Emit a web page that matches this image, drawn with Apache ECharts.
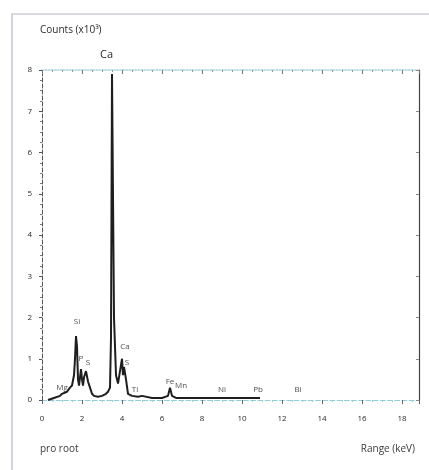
<!DOCTYPE html>
<html>
<head>
<meta charset="utf-8">
<style>
  html, body { margin: 0; padding: 0; background: #fff; }
  #chart { width: 429px; height: 470px; }
</style>
<script src="https://cdn.jsdelivr.net/npm/echarts@6/dist/echarts.min.js"></script>
</head>
<body>
<div id="chart"></div>
<script>
// --- Spectrum data ---
const energy = [0.3, 0.6, 0.9, 1.0, 1.1, 1.25, 1.4, 1.5, 1.6, 1.65, 1.7, 1.75, 1.8, 1.85, 1.9, 1.95, 2.0, 2.05,
  2.1, 2.2, 2.3, 2.4, 2.5, 2.6, 2.8, 3.0, 3.2, 3.3, 3.4, 3.45, 3.5, 3.55, 3.6, 3.7, 3.8, 3.9, 4.0, 4.05,
  4.1, 4.2, 4.3, 4.5, 4.8, 5.0, 5.5, 6.0, 6.3, 6.4, 6.5, 6.7, 7.5, 8.5, 9.5, 10.5, 10.9];
const counts = [0.0, 0.05, 0.1, 0.15, 0.12, 0.2, 0.3, 0.35, 0.6, 1.0, 1.55, 1.3, 0.5, 0.35, 0.55, 0.75, 0.5, 0.35,
  0.55, 0.7, 0.45, 0.3, 0.15, 0.1, 0.08, 0.1, 0.15, 0.2, 0.3, 1.5, 7.9, 7.9, 2.0, 0.6, 0.4, 0.7, 1.0, 0.6,
  0.8, 0.5, 0.15, 0.1, 0.08, 0.1, 0.05, 0.05, 0.1, 0.3, 0.1, 0.05, 0.05, 0.05, 0.05, 0.05, 0.05];

// peak labels
const peakNames = ['Mg', 'Si', 'P', 'S', 'Ca', 'S', 'Ti', 'Fe', 'Mn', 'Ni', 'Pb', 'Bi'];
const peakX = [1.0, 1.75, 1.95, 2.3, 4.15, 4.25, 4.65, 6.4, 6.95, 9.0, 10.8, 12.8];
const peakY = [0.15, 1.75, 0.85, 0.75, 1.15, 0.75, 0.1, 0.3, 0.2, 0.1, 0.1, 0.1];

const xTicks = [0, 2, 4, 6, 8, 10, 12, 14, 16, 18];
const yTicks = [0, 1, 2, 3, 4, 5, 6, 7, 8];

const chart = echarts.init(document.getElementById('chart'));
const txt = '#2a2a2a';
const font = 'Open Sans';

chart.setOption({
  animation: false,
  backgroundColor: '#fff',
  grid: { left: 42, right: 10, top: 70, bottom: 70 },
  xAxis: [{
    type: 'value', min: 0, max: 18.85, interval: 2, position: 'bottom',
    axisLine: { onZero: false, lineStyle: { color: '#8fcfd6', type: 'dashed', width: 1.2 } },
    axisTick: { length: 4, lineStyle: { color: '#666' } },
    minorTick: { show: true, splitNumber: 4, length: 2, lineStyle: { color: '#9ccfd6' } },
    axisLabel: { color: txt, fontSize: 8, fontFamily: font, margin: 15,
      formatter: v => xTicks.includes(v) ? String(v) : '' },
    splitLine: { show: false }
  }, {
    type: 'value', min: 0, max: 18.85, interval: 2, position: 'top',
    axisLine: { show: true, onZero: false, lineStyle: { color: '#a6d6dc', type: 'dotted', width: 1.5 } },
    axisTick: { show: true, inside: true, length: 4, lineStyle: { color: '#777' } },
    minorTick: { show: true, splitNumber: 4, length: 2, lineStyle: { color: '#9c8fa8' } },
    axisLabel: { show: false },
    splitLine: { show: false }
  }],
  yAxis: [{
    type: 'value', min: 0, max: 8, interval: 1, position: 'left',
    axisLine: { show: true, onZero: false, lineStyle: { color: '#555', type: 'dashed', width: 1 } },
    axisTick: { show: true, length: 3, lineStyle: { color: '#555' } },
    minorTick: { show: true, splitNumber: 4, length: 2, lineStyle: { color: '#777' } },
    axisLabel: { color: txt, fontSize: 8, fontFamily: font, margin: 10,
      formatter: v => yTicks.includes(v) ? String(v) : '' },
    splitLine: { show: false }
  }, {
    type: 'value', min: 0, max: 8, interval: 1, position: 'right',
    axisLine: { show: true, onZero: false, lineStyle: { color: '#444', width: 1.2 } },
    axisTick: { show: true, inside: true, length: 3, lineStyle: { color: '#888' } },
    axisLabel: { show: false },
    splitLine: { show: false }
  }],
  series: [{
    type: 'line',
    data: energy.map((e, i) => [e, counts[i]]),
    symbol: 'none',
    lineStyle: { color: '#1e1e1e', width: 2 },
    z: 3
  }, {
    type: 'scatter',
    data: peakX.map((x, i) => [x, peakY[i], peakNames[i]]),
    symbolSize: 0,
    label: {
      show: true, position: 'top', distance: 2, formatter: p => p.data[2],
      color: '#222', fontSize: 8, fontFamily: font
    },
    z: 4
  }],
  graphic: [
    { type: 'rect', shape: { x: 12, y: 14, width: 430, height: 470 },
      style: { fill: 'none', stroke: '#b9b4c4', lineWidth: 1.2 }, z: -1 },
    { type: 'text', left: 40, top: 25,
      style: { text: 'Counts (x10³)', fill: '#2a2a2a', fontSize: 10, fontFamily: font } },
    { type: 'text', left: 100, top: 49,
      style: { text: 'Ca', fill: '#2a2a2a', fontSize: 11, fontFamily: font } },
    { type: 'text', left: 40, top: 444,
      style: { text: 'pro root', fill: '#3a3a3a', fontSize: 10, fontFamily: font } },
    { type: 'text', right: 14, top: 444,
      style: { text: 'Range (keV)', fill: '#3a3a3a', fontSize: 10, fontFamily: font } }
  ]
});
</script>
</body>
</html>
